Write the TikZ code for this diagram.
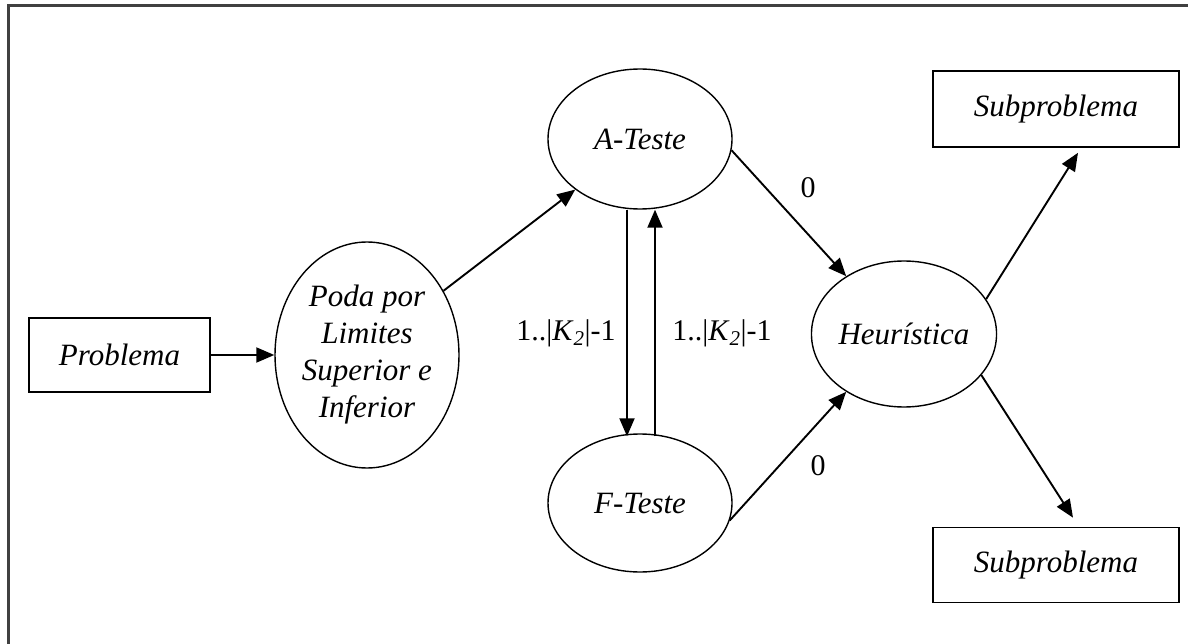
\documentclass[tikz,border=0pt]{standalone}
\usepackage{fontspec}
\setmainfont{Liberation Serif}
\usetikzlibrary{shapes.geometric,arrows.meta}

\tikzset{
  txt/.style={font=\fontsize{31}{37}\selectfont\itshape, text=black},
  box/.style={txt, draw=black, line width=1.6pt, rectangle, inner sep=0pt,
              minimum width=246pt, minimum height=76pt},
  oval/.style={txt, draw=black, line width=1.4pt, ellipse, inner sep=0pt,
               align=center},
  flow/.style={draw=black, line width=1.9pt,
               -{Triangle[length=18pt,width=15pt]}},
  lbl/.style={font=\fontsize{30}{34}\selectfont, text=black, inner sep=0pt},
  frameline/.style={draw=black!75, line width=3pt}
}

\begin{document}
\begin{tikzpicture}[x=1pt,y=-1pt]
  \useasboundingbox (0,0) rectangle (1188,644);

  % outer frame (top and left edges)
  \coordinate (fa) at (1188,6);
  \coordinate (fb) at (8,6);
  \coordinate (fc) at (8,644);
  \draw[frameline] (fa) -- (fb) -- (fc);

  % nodes
  \node[box, minimum width=181pt, minimum height=74pt] (prob) at (119.5,355) {Problema};
  \node[oval, minimum width=184pt, minimum height=226pt] (poda) at (367,355)
       {Poda por\\Limites\\Superior e\\Inferior};
  \node[oval, minimum width=184pt, minimum height=140pt] (ateste) at (640,139) {A-Teste};
  \node[oval, minimum width=184pt, minimum height=138pt] (fteste) at (640,503) {F-Teste};
  \node[oval, minimum width=182pt, minimum height=146pt] (heur) at (904,334) {Heurística};
  \node[box] (subtop) at (1056,109) {Subproblema};
  \node[box, minimum height=75pt] (subbot) at (1056,565) {Subproblema};

  % connectors
  \draw[flow] (prob.east) -- (poda.west);
  \draw[flow] (poda.40) -- (ateste.218);
  \draw[flow] ([xshift=-13pt]ateste.south) -- ([xshift=-13pt,yshift=-3pt]fteste.north);
  \draw[flow] ([xshift=15pt,yshift=-3pt]fteste.north) -- ([xshift=15pt]ateste.south);
  \draw[flow] (ateste.-7) -- (heur.135);
  \draw[flow] (fteste.-11) -- (heur.225);
  \draw[flow] (heur.23) -- ([xshift=22pt,yshift=-5pt]subtop.south);
  \draw[flow] (heur.-28) -- ([xshift=17pt,yshift=9pt]subbot.north);

  % edge labels
  \node[lbl] (z1) at (808,188) {0};
  \node[lbl] (z2) at (818,466) {0};
  \node[lbl] (k1) at (566,333) {1..|\textit{K}\textsubscript{\textit{2}}|-1};
  \node[lbl] (k2) at (722,333) {1..|\textit{K}\textsubscript{\textit{2}}|-1};
\end{tikzpicture}
\end{document}
